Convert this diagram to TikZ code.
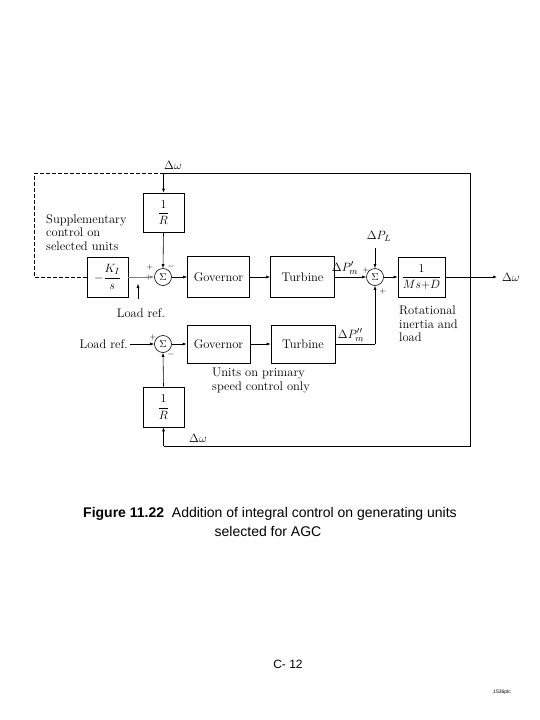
\documentclass[tikz,border=0pt]{standalone}
\usepackage{amsmath}
\usepackage{fontspec}
\newfontfamily\arial{Liberation Sans}
\usetikzlibrary{arrows.meta}
\begin{document}
\begin{tikzpicture}[x=1pt,y=-1pt,
  blk/.style={draw,line width=0.6pt,inner sep=0pt,font=\fontsize{12.5}{13}\selectfont},
  sumc/.style={draw,circle,line width=0.6pt,minimum size=17pt,inner sep=0pt,font=\fontsize{10}{11}\selectfont},
  sig/.style={line width=0.6pt,-{Latex[length=4pt,width=3pt]}},
  wire/.style={line width=0.6pt},
  txt/.style={font=\fontsize{12.5}{13.5}\selectfont,inner sep=0pt},
  sgn/.style={font=\fontsize{8}{8}\selectfont,inner sep=0pt}]
\useasboundingbox (0,0) rectangle (540,720);

% blocks
\node[blk,minimum width=41pt,minimum height=39pt] (R1) at (163.5,212.5) {$\dfrac{1}{R}$};
\node[blk,minimum width=41pt,minimum height=40pt] (K) at (107.5,277) {$-\dfrac{K_I}{s}$};
\node[sumc] (S1) at (163,277) {$\Sigma$};
\node[blk,minimum width=62pt,minimum height=41pt] (G1) at (218.5,277) {Governor};
\node[blk,minimum width=64pt,minimum height=41pt] (T1) at (302.5,277) {Turbine};
\node[sumc] (S2) at (375,277) {$\Sigma$};
\node[blk,minimum width=47pt,minimum height=40pt] (M) at (421.5,277) {$\dfrac{1}{Ms{+}D}$};

\node[sumc] (S3) at (163,344) {$\Sigma$};
\node[blk,minimum width=63pt,minimum height=38pt] (G2) at (218.5,344) {Governor};
\node[blk,minimum width=64pt,minimum height=38pt] (T2) at (303,344) {Turbine};
\node[blk,minimum width=41pt,minimum height=40pt] (R2) at (163.5,407) {$\dfrac{1}{R}$};

% coordinates
\coordinate (tl) at (34,173);
\coordinate (tj) at (163.5,173);
\coordinate (tr) at (470,173);
\coordinate (br) at (470,446);
\coordinate (bj) at (163.5,446);
\coordinate (out) at (497,277);
\coordinate (pl) at (375,248);
\coordinate (m2) at (375,344);
\coordinate (lr) at (130,344);
\coordinate (lrb) at (138,299);
\coordinate (lrt) at (138,284);

% labels
\node[txt] (dw1) at (173,165) {$\Delta\omega$};
\node[txt,anchor=west] (dw2) at (502,277) {$\Delta\omega$};
\node[txt] (dw3) at (198,438) {$\Delta\omega$};
\node[txt] (dpl) at (379,236) {$\Delta P_L$};
\node[txt] (dpm1) at (345,268) {$\Delta P'_m$};
\node[txt] (dpm2) at (351,335) {$\Delta P''_m$};
\node[txt,anchor=east] (lref1) at (128,344) {Load ref.};
\node[txt] (lref2) at (141,313) {Load ref.};
\node[txt,anchor=north west,align=left] (sup) at (46,214) {Supplementary\\control on\\selected units};
\node[txt,anchor=north west,align=left] (rot) at (399,306) {Rotational\\inertia and\\load};
\node[txt,anchor=north west,align=left] (uni) at (212,368) {Units on primary\\speed control only};

% signs
\node[sgn] (p1) at (150,267) {$+$};
\node[sgn] (p1b) at (149,277) {$+$};
\node[sgn] (m1) at (171,266) {$-$};
\node[sgn] (p2) at (366,270) {$+$};
\node[sgn] (p2b) at (383,291) {$+$};
\node[sgn] (p3) at (153,337) {$+$};
\node[sgn] (m3) at (171,354) {$-$};

% connectors
\draw[wire,dashed,dash pattern=on 4pt off 2pt] (tj) -- (tl) -- (34,277) -- (K.west);
\draw[wire] (tj) -- (tr) -- (br) -- (bj);
\draw[sig] (tj) -- (R1.north);
\draw[sig] (R1.south) -- (S1.north);
\draw[sig,gray] (K.east) -- (S1.west);
\draw[sig,line width=0.4pt] (lrb) -- (lrt);
\draw[sig] (S1.east) -- (G1.west);
\draw[sig] (G1.east) -- (T1.west);
\draw[sig] (T1.east) -- (S2.west);
\draw[sig] (pl) -- (S2.north);
\draw[sig] (S2.east) -- (M.west);
\draw[sig] (M.east) -- (out);
\draw[sig] (lr) -- (S3.west);
\draw[sig] (S3.east) -- (G2.west);
\draw[sig] (G2.east) -- (T2.west);
\draw[wire] (T2.east) -- (m2);
\draw[sig] (m2) -- (S2.south);
\draw[sig] (bj) -- (R2.south);
\draw[sig] (R2.north) -- (S3.south);

% caption
\node[inner sep=0pt,font=\arial\fontsize{14}{16}\selectfont] (cap1) at (270,514) {\textbf{Figure 11.22}\ \ Addition of integral control on generating units};
\node[inner sep=0pt,font=\arial\fontsize{14}{16}\selectfont] (cap2) at (268,531) {selected for AGC};
\node[inner sep=0pt,font=\arial\fontsize{12}{12}\selectfont] (pg) at (288,664) {C- 12};
\node[inner sep=0pt,font=\arial\fontsize{5}{6}\selectfont] (code) at (502,692) {1536plc};
\end{tikzpicture}
\end{document}
